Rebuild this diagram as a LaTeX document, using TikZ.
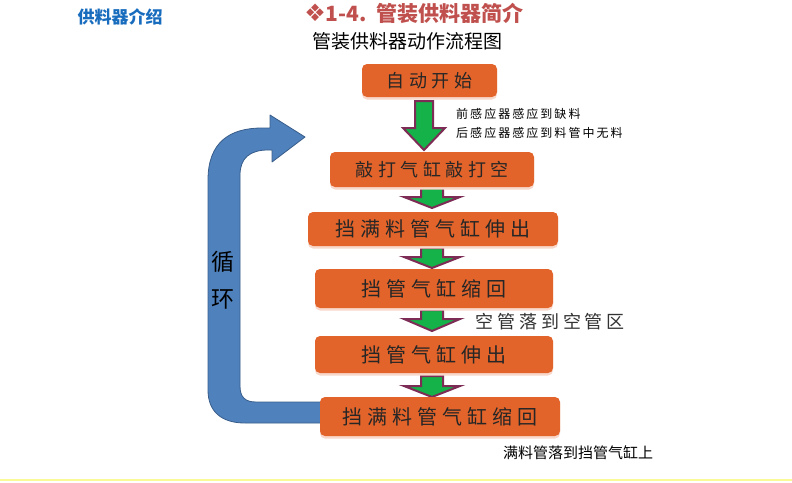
\documentclass[tikz,border=0pt]{standalone}
\usepackage{fontspec}
\setmainfont{Noto Sans CJK SC}
\newfontfamily\dejavu{DejaVu Sans}
\usetikzlibrary{shadows}
\definecolor{boxorange}{RGB}{226,100,42}
\definecolor{arrgreen}{RGB}{20,178,72}
\definecolor{arrmaroon}{RGB}{125,45,85}
\definecolor{loopblue}{RGB}{79,129,189}
\definecolor{loopedge}{RGB}{56,93,138}
\definecolor{titleblue}{RGB}{23,108,190}
\definecolor{titlered}{RGB}{192,80,77}
\definecolor{lineyellow}{RGB}{250,250,150}
\newcommand\gArrow[6]{%
  \filldraw[garrow] (#1-#5,#2) -- (#1+#5,#2) -- (#1+#5,#3) -- (#1+#6,#3) -- (#1,#4) -- (#1-#6,#3) -- (#1-#5,#3) -- cycle;}
\tikzset{
  stepbox/.style={rounded corners=5pt, fill=boxorange, text=black!85, inner sep=0pt,
    drop shadow={shadow xshift=0pt, shadow yshift=-2.5pt, fill=boxorange!25, opacity=1}},
  bigtxt/.style={font=\fontsize{20}{20}\selectfont\addfontfeature{LetterSpace=25}},
  midtxt/.style={font=\fontsize{18}{18}\selectfont\addfontfeature{LetterSpace=25}},
  garrow/.style={fill=arrgreen, draw=arrmaroon, line width=2pt, line join=miter},
  note/.style={anchor=west, inner sep=0pt},
}
\begin{document}
\begin{tikzpicture}[x=1pt,y=-1pt]
\useasboundingbox (0,0) rectangle (792,482);
\fill[white] (0,0) rectangle (792,482);
\draw[lineyellow, line width=2.5pt] (0,480) -- (792,480);

% titles
\node[inner sep=0pt, text=titleblue, font=\fontsize{17}{17}\selectfont\bfseries] (t1) at (120,17) {供料器介绍};
\node[inner sep=0pt, text=titlered, font=\fontsize{21}{21}\selectfont\bfseries] (t2) at (414,13) {{\dejavu\fontsize{24}{24}\selectfont ❖}1-4.\ \ 管装供料器简介};
\node[inner sep=0pt, text=black, font=\fontsize{19}{19}\selectfont] (t3) at (407,41) {管装供料器动作流程图};

% loop arrow
\filldraw[fill=loopblue, draw=loopedge, line width=0.8pt, line join=round]
  (325,402) -- (256,402) .. controls (245,402) and (240,397) .. (240,386)
  -- (240,175) .. controls (240,158) and (250,150) .. (268,150)
  -- (272,150) -- (272,162) -- (305,137) -- (270,115) -- (270,128) -- (262,128)
  .. controls (230,128) and (208,142) .. (208,180)
  -- (208,390) .. controls (208,412) and (222,423) .. (245,423) -- (325,423) -- cycle;
\node[inner sep=0pt, font=\fontsize{23}{23}\selectfont] (c1) at (223,262) {循};
\node[inner sep=0pt, font=\fontsize{23}{23}\selectfont] (c2) at (223,299) {环};

% block arrows
\gArrow{424}{101}{128}{150}{9}{21}
\gArrow{432}{188}{197}{208}{11}{28}
\gArrow{432}{248}{257}{268}{11}{28}
\gArrow{432}{310}{319}{331}{11}{28}
\gArrow{432}{376}{386}{397}{11}{28}

% boxes
\node[stepbox, midtxt, minimum width=135pt, minimum height=33pt] (b1) at (429.5,80.5) {自动开始};
\node[stepbox, midtxt, minimum width=204pt, minimum height=35pt] (b2) at (432,169.5) {敲打气缸敲打空};
\node[stepbox, bigtxt, minimum width=250pt, minimum height=34pt] (b3) at (433,229) {挡满料管气缸伸出};
\node[stepbox, bigtxt, minimum width=238pt, minimum height=39pt] (b4) at (434,288.5) {挡管气缸缩回};
\node[stepbox, bigtxt, minimum width=238pt, minimum height=37pt] (b5) at (434,354.5) {挡管气缸伸出};
\node[stepbox, bigtxt, minimum width=240pt, minimum height=39pt] (b6) at (440,416.5) {挡满料管气缸缩回};

% notes
\node[note, font=\fontsize{12}{12}\selectfont\addfontfeature{LetterSpace=17}] (n1) at (456,114) {前感应器感应到缺料};
\node[note, font=\fontsize{12}{12}\selectfont\addfontfeature{LetterSpace=17}] (n2) at (456,133) {后感应器感应到料管中无料};
\node[note, text=black!80, font=\fontsize{18}{18}\selectfont\addfontfeature{LetterSpace=22}] (n3) at (475,322) {空管落到空管区};
\node[note, font=\fontsize{15}{15}\selectfont] (n4) at (503,453) {满料管落到挡管气缸上};
\end{tikzpicture}
\end{document}
